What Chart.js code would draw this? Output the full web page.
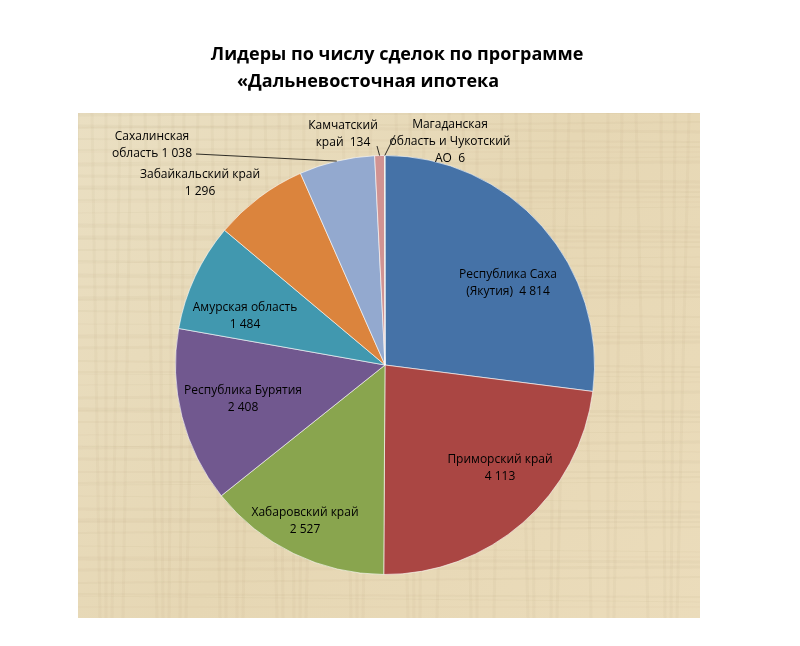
<!DOCTYPE html>
<html><head><meta charset="utf-8">
<script src="https://cdn.jsdelivr.net/npm/chart.js@4"></script>
<style>html,body{margin:0;background:#fff}#w{width:800px;height:646px}</style>
</head><body><div id="w"><canvas id="c"></canvas></div>
<script>
const categories = [
  ["Республика Саха","(Якутия)  4 814"],
  ["Приморский край","4 113"],
  ["Хабаровский край","2 527"],
  ["Республика Бурятия","2 408"],
  ["Амурская область","1 484"],
  ["Забайкальский край","1 296"],
  ["Сахалинская","область 1 038"],
  ["Камчатский","край  134"],
  ["Магаданская","область и Чукотский","АО  6"]
];
const values = [4814, 4113, 2527, 2408, 1484, 1296, 1038, 134, 6];
const colors = ["#4572A7","#AA4643","#89A54E","#71588F","#4198AF","#DB843D","#93A9CF","#D19392","#B9CD96"];
const titleLines = ["Лидеры по числу сделок по программе","«Дальневосточная ипотека"];
const labelPos = [
  [123,-82,false],[115,103,false],[-80,156,false],[-142,34,false],[-140,-49,false],
  [-185,-182,false],[-233,-220,true],[-42,-231,true],[65,-223,true]
];
const bg = {
  id:'bg',
  beforeDraw(ch){
    const c=ch.ctx; c.save();
    c.fillStyle='#fff'; c.fillRect(0,0,ch.width,ch.height);
    const x0=78,y0=113,w=622,h=505;
    c.beginPath();c.rect(x0,y0,w,h);c.clip();
    const g=c.createLinearGradient(x0,y0,x0+w,y0+h);
    g.addColorStop(0,'#eadfc2');g.addColorStop(0.5,'#e6d7b4');g.addColorStop(1,'#ebdcbb');
    c.fillStyle=g;c.fillRect(x0,y0,w,h);
    c.globalAlpha=0.045;c.strokeStyle='#8a6a3a';
    for(let i=0;i<60;i++){const yy=y0+((i*37)%h);c.lineWidth=1+(i%3);c.beginPath();c.moveTo(x0,yy);c.lineTo(x0+w,yy+((i%5)-2)*3);c.stroke();}
    for(let i=0;i<40;i++){const xx=x0+((i*53)%w);c.beginPath();c.moveTo(xx,y0);c.lineTo(xx+((i%7)-3)*4,y0+h);c.stroke();}
    c.restore();
    c.save();c.fillStyle='#000';c.font='bold 18px "Open Sans", sans-serif';c.textAlign='center';c.textBaseline='middle';
    c.fillText(titleLines[0],397,55);c.fillText(titleLines[1],368,82);c.restore();
  },
  afterDraw(ch){
    const c=ch.ctx,meta=ch.getDatasetMeta(0);
    c.save();c.font='12px "Open Sans", sans-serif';c.fillStyle='#000';c.textAlign='center';c.textBaseline='middle';
    meta.data.forEach((arc,i)=>{
      const p=labelPos[i], x=arc.x+p[0], y=arc.y+p[1], lines=categories[i];
      lines.forEach((t,k)=>c.fillText(t,x,y+(k-(lines.length-1)/2)*17));
      if(p[2]){
        const mid=(arc.startAngle+arc.endAngle)/2;
        const ex=arc.x+Math.cos(mid)*arc.outerRadius, ey=arc.y+Math.sin(mid)*arc.outerRadius;
        let sx=x, sy=y;
        if(i===6){sx=x+44;sy=y+9;}
        if(i===7){sx=x+34;sy=y+12;}
        if(i===8){sx=x-55;sy=y-7;}
        c.strokeStyle='#000';c.lineWidth=0.8;c.beginPath();c.moveTo(sx,sy);c.lineTo(ex,ey);c.stroke();
      }
    });
    c.restore();
  }
};
new Chart(document.getElementById('c'),{
  type:'pie',
  data:{labels:categories.map(l=>l.join(' ')),datasets:[{data:values,backgroundColor:colors,borderColor:'rgba(255,255,255,0.6)',borderWidth:1}]},
  options:{responsive:true,maintainAspectRatio:false,animation:false,
    layout:{padding:{left:175,right:205,top:155,bottom:71}},
    plugins:{legend:{display:false},title:{display:false},tooltip:{enabled:false}}},
  plugins:[bg]
});
</script></body></html>
